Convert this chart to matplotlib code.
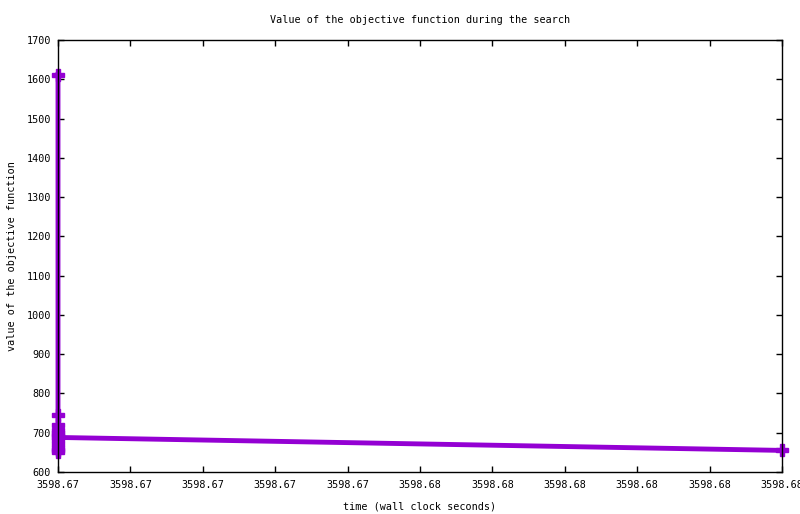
import matplotlib
matplotlib.use("Agg")
import matplotlib.pyplot as plt
from matplotlib.ticker import FormatStrFormatter, MultipleLocator

# objective value per evaluation (wall clock seconds)
t_start = 3598.6712
t_end = 3598.6792
time_s = [t_start] * 12 + [t_end]
objective = [1612, 745, 720, 706, 700, 693, 650, 682, 672, 662, 655, 688, 655]

xticks = [3598.6712 + 0.0008 * i for i in range(11)]

plt.rcParams["font.family"] = ["DejaVu Sans Mono"]
plt.rcParams["font.size"] = 7.3

fig = plt.figure(figsize=(8.0, 5.14), dpi=100)
ax = fig.add_axes([58 / 800, 42 / 514, 724 / 800, 432 / 514])

color = "#9400d3"
ax.plot(time_s, objective, color=color, lw=3.5, marker="P", ms=8,
        mec=color, mfc=color, clip_on=False, zorder=2)

ax.set_xlim(t_start, t_end)
ax.set_ylim(600, 1700)
ax.set_xticks(xticks)
ax.xaxis.set_major_formatter(FormatStrFormatter("%.2f"))
ax.yaxis.set_major_locator(MultipleLocator(100))
ax.tick_params(direction="in", length=4, width=1, top=True, right=True,
               pad=6, colors="black")
ax.tick_params(axis="y", pad=5)
for s in ax.spines.values():
    s.set_linewidth(1)
    s.set_zorder(5)

ax.set_title("Value of the objective function during the search",
             fontsize=7.3, pad=12)
ax.set_xlabel("time (wall clock seconds)", labelpad=8)
ax.set_ylabel("value of the objective function", labelpad=7)

fig.savefig("out.png", dpi=100)
